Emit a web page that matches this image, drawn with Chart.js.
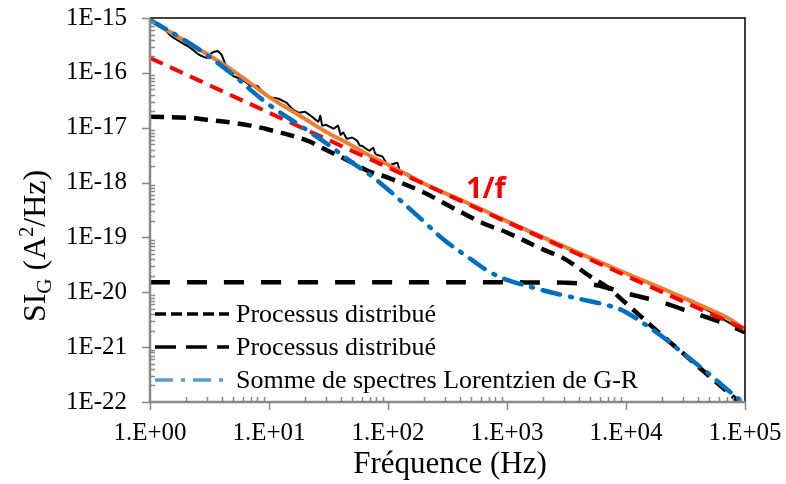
<!DOCTYPE html>
<html lang="fr">
<head>
<meta charset="UTF-8">
<script src="https://cdn.jsdelivr.net/npm/chart.js"></script>
<title>SI_G bruit</title>
<style>
    html, body { margin: 0; padding: 0; background: #fff; }
</style>
</head>
<body>
<canvas id="graf" width="786" height="484"></canvas>
<script>
// fréquences communes (Hz)
var freq = [1, 2, 3, 5, 7, 10, 20, 30, 50, 70, 100, 200, 300, 500, 700, 1000, 2000, 3000, 5000, 7000, 1e4, 2e4, 3e4, 5e4, 7e4, 1e5]

// ajustement total (orange)
var ajustement = [9.2e-16, 3.74e-16, 2.21e-16, 1.09e-16, 6.4e-17, 3.66e-17, 1.46e-17, 8.46e-18, 4.71e-18, 3.1e-18,
    2.12e-18, 9.6e-19, 6.44e-19, 3.98e-19, 2.85e-19, 1.95e-19, 1.0e-19, 6.86e-20, 4.24e-20, 3.1e-20,
    2.22e-20, 1.18e-20, 8.1e-21, 4.9e-21, 3.5e-21, 2.12e-21]

// processus distribué 1 (tirets courts)
var processus1 = [1.58e-17, 1.52e-17, 1.40e-17, 1.23e-17, 1.09e-17, 9.2e-18, 6.05e-18, 3.98e-18, 2.31e-18, 1.58e-18,
    1.23e-18, 6.6e-19, 4.15e-19, 2.31e-19, 1.65e-19, 1.23e-19, 6.05e-20, 4.15e-20, 1.95e-20, 1.23e-20,
    6.3e-21, 1.65e-21, 7.8e-22, 2.97e-22, 1.58e-22, 8.1e-23]

// processus distribué 2 (tirets longs)
var processus2 = [1.52e-20, 1.52e-20, 1.52e-20, 1.52e-20, 1.52e-20, 1.52e-20, 1.52e-20, 1.52e-20, 1.52e-20, 1.52e-20,
    1.52e-20, 1.52e-20, 1.52e-20, 1.52e-20, 1.52e-20, 1.52e-20, 1.51e-20, 1.5e-20, 1.40e-20, 1.21e-20,
    9.6e-21, 6.6e-21, 4.9e-21, 3.37e-21, 2.62e-21, 1.87e-21]

// somme de spectres lorentziens G-R (bleu)
var lorentz = [9.2e-16, 3.82e-16, 2.12e-16, 9.2e-17, 4.9e-17, 2.62e-17, 9.6e-18, 5.3e-18, 2.31e-18, 1.40e-18,
    7.46e-19, 1.95e-19, 8.8e-20, 3.98e-20, 2.41e-20, 1.69e-20, 1.09e-20, 8.8e-21, 6.86e-21, 5.8e-21,
    4.33e-21, 1.58e-21, 7.8e-22, 3.23e-22, 1.72e-22, 9.2e-23]

// droite 1/f (rouge)
var freq1f = [1, 1000, 1e5]
var droite1f = [1.87e-16, 1.9e-19, 2.12e-21]

// spectre mesuré (noir)
var freqMesure = [1, 1.2, 1.5, 1.8, 2, 2.3, 2.6, 3, 3.3, 3.7, 4, 4.5, 5, 6, 7, 8, 9, 10, 12, 14, 16, 18, 20, 23, 26,
    27, 28, 30, 35, 38, 40, 42, 45, 50, 55, 58, 60, 70, 75, 78, 80, 90, 100, 120, 125, 150, 200, 300, 500,
    1000, 2000, 5000, 1e4, 2e4, 5e4, 1e5]
var mesure = [9.2e-16, 7.78e-16, 4.71e-16, 3.66e-16, 3.23e-16, 2.62e-16, 2.12e-16, 1.87e-16, 2.31e-16, 2.51e-16,
    2.12e-16, 1.13e-16, 8.8e-17, 7.46e-17, 5.8e-17, 5.8e-17, 4.33e-17, 3.66e-17, 3.37e-17, 2.85e-17,
    2.12e-17, 1.87e-17, 1.95e-17, 1.58e-17, 1.29e-17,
    1.65e-17, 1.09e-17, 1.13e-17, 9.6e-18, 1.1e-17, 7.4e-18, 8.2e-18, 6.3e-18, 6.6e-18, 5.8e-18, 4.7e-18,
    4.7e-18, 3.8e-18, 4.33e-18, 3.4e-18, 3.23e-18, 2.97e-18, 2.04e-18, 2.31e-18, 1.7e-18, 1.40e-18, 9.6e-19,
    6.6e-19, 3.82e-19, 2.04e-19, 1.04e-19, 4.15e-20, 2.21e-20, 1.18e-20, 4.52e-21, 1.87e-21]

// graduations
var xTicks = [1, 10, 100, 1000, 1e4, 1e5]
var xLabels = ['1.E+00', '1.E+01', '1.E+02', '1.E+03', '1.E+04', '1.E+05']
var yTicks = [1e-22, 1e-21, 1e-20, 1e-19, 1e-18, 1e-17, 1e-16, 1e-15]
var yLabels = ['1E-22', '1E-21', '1E-20', '1E-19', '1E-18', '1E-17', '1E-16', '1E-15']

var legende = ['Processus distribué', 'Processus distribué', 'Somme de spectres Lorentzien de G-R']

function pts(xs, ys) {
    return xs.map(function (v, i) { return { x: v, y: ys[i] } })
}

var serif = "'Liberation Serif', 'Times New Roman', serif"

// dessine bordures, petites graduations, titres, légende
var decor = {
    id: 'decor',
    afterDraw: function (chart) {
        var ctx = chart.ctx
        var a = chart.chartArea
        var sx = chart.scales.x
        var sy = chart.scales.y
        ctx.save()
        // cadre haut/droite
        ctx.strokeStyle = '#000'
        ctx.lineWidth = 1.5
        ctx.beginPath()
        ctx.moveTo(a.left, a.top)
        ctx.lineTo(a.right, a.top)
        ctx.lineTo(a.right, a.bottom)
        ctx.stroke()
        // axes gris
        ctx.strokeStyle = '#898989'
        ctx.lineWidth = 2.5
        ctx.beginPath()
        ctx.moveTo(a.left, a.top)
        ctx.lineTo(a.left, a.bottom)
        ctx.lineTo(a.right, a.bottom)
        ctx.stroke()
        ctx.lineWidth = 1.5
        ctx.beginPath()
        for (var e = -22; e <= -15; e++) {
            var p = Math.round(sy.getPixelForValue(Math.pow(10, e))) + 0.5
            ctx.moveTo(a.left - 8, p); ctx.lineTo(a.left, p)
            if (e < -15) {
                for (var k = 2; k <= 9; k++) {
                    var q = Math.round(sy.getPixelForValue(k * Math.pow(10, e))) + 0.5
                    ctx.moveTo(a.left, q); ctx.lineTo(a.left + 5, q)
                }
            }
        }
        for (var e = 0; e <= 5; e++) {
            var p = Math.round(sx.getPixelForValue(Math.pow(10, e))) + 0.5
            ctx.moveTo(p, a.bottom); ctx.lineTo(p, a.bottom + 8)
            if (e < 5) {
                for (var k = 2; k <= 9; k++) {
                    var q = Math.round(sx.getPixelForValue(k * Math.pow(10, e))) + 0.5
                    ctx.moveTo(q, a.bottom); ctx.lineTo(q, a.bottom - 5)
                }
            }
        }
        ctx.stroke()

        // titre axe x
        ctx.fillStyle = '#000'
        ctx.font = '31px ' + serif
        ctx.textAlign = 'center'
        ctx.textBaseline = 'alphabetic'
        ctx.fillText('Fréquence (Hz)', 450, 473)

        // titre axe y avec indice et exposant
        var morceaux = [
            { t: 'SI', s: 32, dy: 0 },
            { t: 'G', s: 21, dy: 6 },
            { t: ' (A', s: 32, dy: 0 },
            { t: '2', s: 20, dy: -12 },
            { t: '/Hz)', s: 32, dy: 0 }
        ]
        ctx.save()
        ctx.translate(45, 246)
        ctx.rotate(-Math.PI / 2)
        ctx.textAlign = 'left'
        var total = 0
        morceaux.forEach(function (m) {
            ctx.font = m.s + 'px ' + serif
            m.w = ctx.measureText(m.t).width
            total += m.w
        })
        var cx = -total / 2
        morceaux.forEach(function (m) {
            ctx.font = m.s + 'px ' + serif
            ctx.fillText(m.t, cx, m.dy)
            cx += m.w
        })
        ctx.restore()

        // étiquette 1/f
        ctx.fillStyle = '#ff0000'
        ctx.font = "bold 29px 'Open Sans', 'Liberation Sans', sans-serif"
        ctx.textAlign = 'left'
        ctx.fillText('1/f', 466, 198)

        // légende
        var lignes = [
            { y: 314, couleur: '#000', dash: [11, 5] },
            { y: 347, couleur: '#000', dash: [21, 10] },
            { y: 380, couleur: '#5b9bd5', dash: [18, 8, 4, 8] }
        ]
        ctx.font = '26px ' + serif
        ctx.textBaseline = 'middle'
        lignes.forEach(function (l, i) {
            ctx.strokeStyle = l.couleur
            ctx.lineWidth = 3.5
            ctx.setLineDash(l.dash)
            ctx.lineCap = 'butt'
            ctx.beginPath()
            ctx.moveTo(155, l.y)
            ctx.lineTo(229, l.y)
            ctx.stroke()
            ctx.setLineDash([])
            ctx.fillStyle = '#000'
            ctx.fillText(legende[i], 236, l.y + 1)
        })
        ctx.restore()
    }
}

var grafico = new Chart(document.getElementById('graf'), {
    type: 'line',
    data: {
        datasets: [
            {
                label: 'mesure',
                data: pts(freqMesure, mesure),
                borderColor: '#000',
                borderWidth: 2,
                pointRadius: 0,
                tension: 0.1,
                order: 6
            },
            {
                label: legende[0],
                data: pts(freq, processus1),
                borderColor: '#000',
                borderWidth: 4.5,
                borderDash: [14, 8],
                pointRadius: 0,
                tension: 0.35,
                order: 5
            },
            {
                label: legende[1],
                data: pts(freq, processus2),
                borderColor: '#000',
                borderWidth: 4.5,
                borderDash: [20, 17],
                pointRadius: 0,
                tension: 0.35,
                order: 4
            },
            {
                label: 'ajustement',
                data: pts(freq, ajustement),
                borderColor: '#ed7d31',
                borderWidth: 4,
                pointRadius: 0,
                tension: 0.35,
                order: 3
            },
            {
                label: '1/f',
                data: pts(freq1f, droite1f),
                borderColor: '#ff0000',
                borderWidth: 4,
                borderDash: [14, 8],
                pointRadius: 0,
                order: 2
            },
            {
                label: legende[2],
                data: pts(freq, lorentz),
                borderColor: '#0070c0',
                borderWidth: 4.5,
                borderDash: [18, 10, 2, 10],
                borderCapStyle: 'round',
                pointRadius: 0,
                tension: 0.35,
                order: 1
            }
        ]
    },
    options: {
        responsive: false,
        animation: false,
        devicePixelRatio: 1,
        layout: { padding: { top: 18, right: 41, left: 0, bottom: 0 } },
        plugins: {
            legend: { display: false },
            tooltip: { enabled: false }
        },
        scales: {
            x: {
                type: 'logarithmic',
                min: 1,
                max: 1e5,
                afterBuildTicks: function (s) {
                    s.ticks = xTicks.map(function (v) { return { value: v } })
                },
                afterFit: function (s) {
                    s.height = 82
                    s.paddingLeft = 0
                    s.paddingRight = 0
                },
                grid: { display: false, drawTicks: false },
                border: { display: false },
                ticks: {
                    autoSkip: false,
                    maxRotation: 0,
                    padding: 16,
                    color: '#000',
                    font: { family: serif, size: 25 },
                    callback: function (v, i) { return xLabels[i] }
                }
            },
            y: {
                type: 'logarithmic',
                min: 1e-22,
                max: 1e-15,
                afterBuildTicks: function (s) {
                    s.ticks = yTicks.map(function (v) { return { value: v } })
                },
                afterFit: function (s) {
                    s.width = 150
                    s.paddingTop = 0
                    s.paddingBottom = 0
                },
                grid: { display: false, drawTicks: false },
                border: { display: false },
                ticks: {
                    autoSkip: false,
                    padding: 23,
                    color: '#000',
                    font: { family: serif, size: 25 },
                    callback: function (v, i) { return yLabels[i] }
                }
            }
        }
    },
    plugins: [decor]
})
</script>
</body>
</html>
